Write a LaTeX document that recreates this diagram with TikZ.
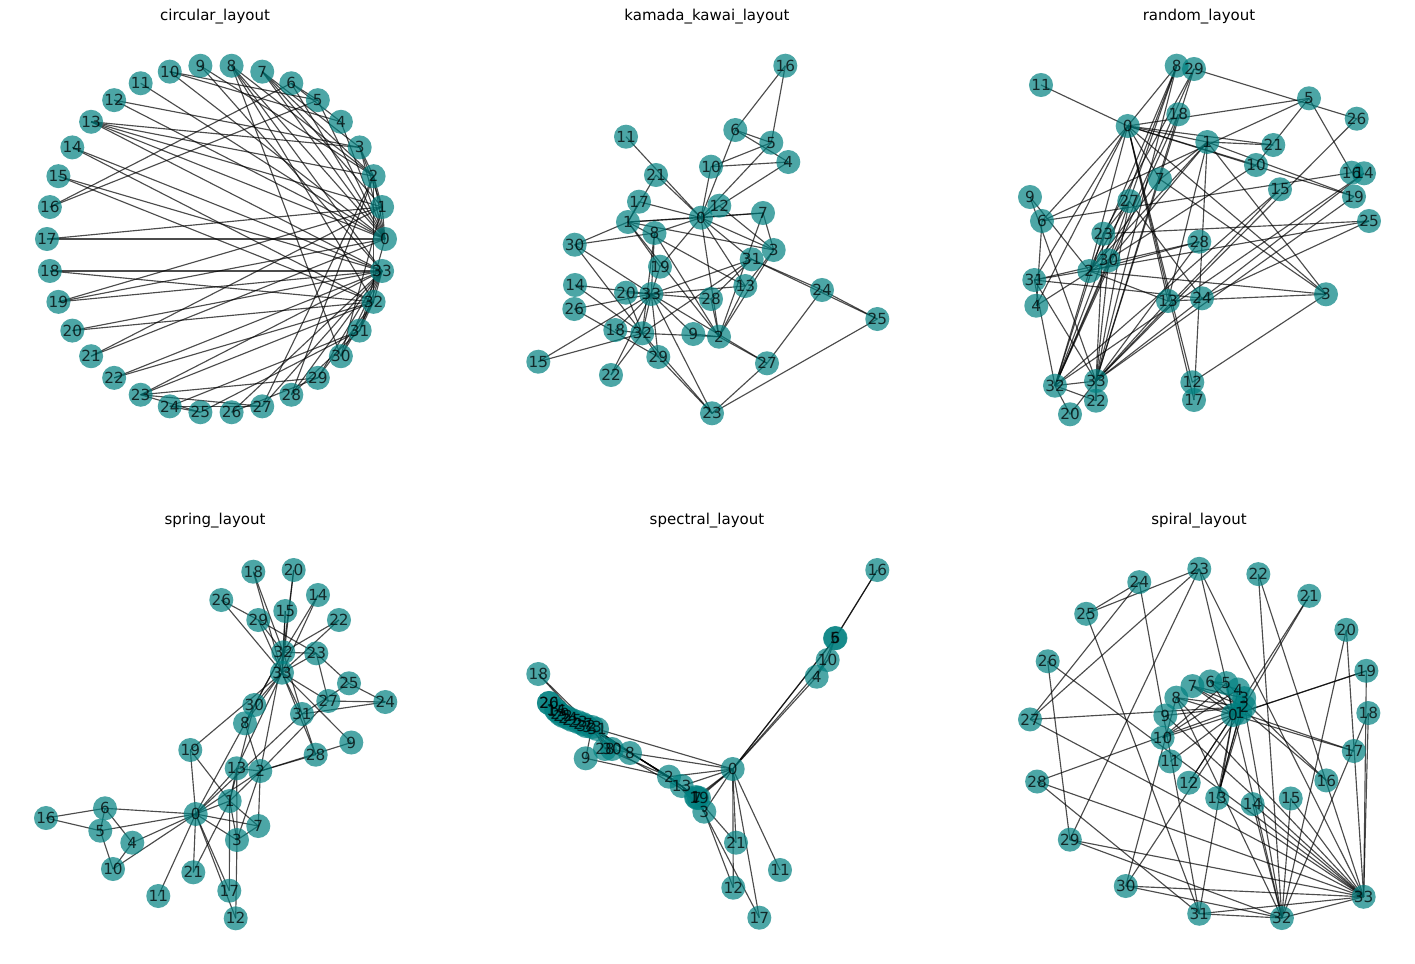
\documentclass[tikz,border=0pt]{standalone}
\usepackage{fontspec}
\setmainfont{DejaVu Sans}
\usepackage{tikz}

\pgfdeclarelayer{bg}
\pgfsetlayers{bg,main}

% karate club edges
\newcommand\karateedges{0/1,0/2,0/3,0/4,0/5,0/6,0/7,0/8,0/10,0/11,0/12,0/13,0/17,0/19,0/21,0/31,1/2,1/3,1/7,1/13,1/17,1/19,1/21,1/30,2/3,2/7,2/8,2/9,2/13,2/27,2/28,2/32,3/7,3/12,3/13,4/6,4/10,5/6,5/10,5/16,6/16,8/30,8/32,8/33,9/33,13/33,14/32,14/33,15/32,15/33,18/32,18/33,19/33,20/32,20/33,22/32,22/33,23/25,23/27,23/29,23/32,23/33,24/25,24/27,24/31,25/31,26/29,26/33,27/33,28/31,28/33,29/32,29/33,30/32,30/33,31/32,31/33,32/33}

\tikzset{
  vert/.style={circle, fill=teal, fill opacity=0.7, minimum size=17.3pt, inner sep=0pt},
  lab/.style={font=\fontsize{11}{12}\selectfont, text=black, text opacity=0.75, inner sep=0pt},
  edge/.style={black, opacity=0.7, line width=0.82pt},
  title/.style={font=\fontsize{10.8}{12}\selectfont, text=black}
}

\begin{document}
\begin{tikzpicture}[x=0.72pt, y=-0.72pt]
    \useasboundingbox (0,0) rectangle (1415,964);

    % Titles
    \node[title] (t1) at (215,17) {circular\_layout};
    \node[title] (t2) at (707,17) {kamada\_kawai\_layout};
    \node[title] (t3) at (1199,17) {random\_layout};
    \node[title] (t4) at (215,521) {spring\_layout};
    \node[title] (t5) at (707,521) {spectral\_layout};
    \node[title] (t6) at (1199,521) {spiral\_layout};

    % Circular
    \foreach \i in {0,...,33}
        \node[vert] (ci\i) at ({216+169*cos(\i*360/34)},{239-174*sin(\i*360/34)}) {};
    \begin{pgfonlayer}{bg}
    \foreach \a/\b in \karateedges \draw[edge] (ci\a.center) -- (ci\b.center);
    \end{pgfonlayer}
    \foreach \i in {0,...,33} \node[lab] (cil\i) at (ci\i) {\i};

    % Kamada-Kawai
    \foreach \i/\x/\y in {0/701/217.7, 1/628/222, 2/719/336.7, 3/773.7/250, 4/788.3/162, 5/771.3/142.7, 6/735.3/130, 7/763/213, 8/654.5/233, 9/693.3/334, 10/711/166.7, 11/626/136.7, 12/719.3/205.7, 13/745.3/286, 14/575/285, 15/538.3/361.7, 16/785.3/65.7, 17/639/201.7, 18/615.3/330, 19/660/266.7, 20/626/292.7, 21/656/175, 22/611/375, 23/712/413.3, 24/822/290, 25/877.3/319, 26/574.3/309, 27/767/363.3, 28/711/299, 29/658.3/357, 30/574.7/244.7, 31/751.7/259.3, 32/642.3/333.3, 33/651.3/294}
        \node[vert] (kk\i) at (\x,\y) {};
    \begin{pgfonlayer}{bg}
    \foreach \a/\b in \karateedges \draw[edge] (kk\a.center) -- (kk\b.center);
    \end{pgfonlayer}
    \foreach \i in {0,...,33} \node[lab] (kkl\i) at (kk\i) {\i};

    % Random
    \foreach \i/\x/\y in {0/1127.7/126, 1/1207.3/142, 2/1089.3/271, 3/1326/294.3, 4/1036.3/305.7, 5/1309/98.3, 6/1042/221, 7/1160/179.3, 8/1176.7/65.7, 9/1030/197, 10/1256/165, 11/1041/85, 12/1192.3/382.3, 13/1168/301, 14/1364/173.3, 15/1280/189.3, 16/1351.7/172.7, 17/1194/400, 18/1178.3/114.3, 19/1354/196.5, 20/1070/414.3, 21/1273.3/145, 22/1096/400.7, 23/1103.3/233.7, 24/1202/298.3, 25/1369/221, 26/1356.7/118.7, 27/1129.3/201, 28/1199.3/241.7, 29/1194/69, 30/1108.7/260.3, 31/1034.3/280, 32/1055/385.7, 33/1096/381}
        \node[vert] (rn\i) at (\x,\y) {};
    \begin{pgfonlayer}{bg}
    \foreach \a/\b in \karateedges \draw[edge] (rn\a.center) -- (rn\b.center);
    \end{pgfonlayer}
    \foreach \i in {0,...,33} \node[lab] (rnl\i) at (rn\i) {\i};

    % Spring
    \foreach \i/\x/\y in {0/195.7/814, 1/229.7/801, 2/260.3/771, 3/237/840, 4/132.3/842.7, 5/100.3/830.7, 6/105/808.3, 7/258.3/826, 8/245/723.3, 9/351.3/742.5, 10/113/869, 11/158.3/896, 12/235.7/918.3, 13/236.7/768.3, 14/318/595, 15/285.3/611, 16/46/818, 17/229.3/890.7, 18/253.3/571.7, 19/190.3/750, 20/293.7/570, 21/193.3/872.3, 22/339/620, 23/316.3/653.3, 24/385.3/702, 25/349/683.3, 26/221.3/600, 27/328.3/701, 28/315.7/754.7, 29/258.3/620, 30/254.3/705, 31/302/714, 32/283.3/652.3, 33/282/672.7}
        \node[vert] (sp\i) at (\x,\y) {};
    \begin{pgfonlayer}{bg}
    \foreach \a/\b in \karateedges \draw[edge] (sp\a.center) -- (sp\b.center);
    \end{pgfonlayer}
    \foreach \i in {0,...,33} \node[lab] (spl\i) at (sp\i) {\i};

    % Spectral
    \foreach \i/\x/\y in {0/732.7/769, 1/696/797, 2/669/776.7, 3/704.3/811.7, 4/816.7/676.7, 5/835/638.3, 6/835.5/638, 7/697/798, 8/630/753, 9/585.7/758.3, 10/827.7/660, 11/780/870, 12/733.3/887.7, 13/681.7/786, 14/556/710, 15/557/711, 16/877.3/570, 17/759.3/917.7, 18/538.3/674, 19/699/798, 20/549/703, 21/736/842.7, 22/563/716, 23/578/722, 24/568/718, 25/572/720, 26/549/703, 27/583/724, 28/605/749, 29/560/714, 30/612/749, 31/597/729, 32/586/726, 33/592/727}
        \node[vert] (sc\i) at (\x,\y) {};
    \begin{pgfonlayer}{bg}
    \foreach \a/\b in \karateedges \draw[edge] (sc\a.center) -- (sc\b.center);
    \end{pgfonlayer}
    \foreach \i in {0,...,33} \node[lab] (scl\i) at (sc\i) {\i};

    % Spiral
    \foreach \i in {0,...,33}
        \node[vert] (si\i) at ({1233+7.52*\i*cos(deg(0.35*\i))},{715-6.48*\i*sin(deg(0.35*\i))}) {};
    \begin{pgfonlayer}{bg}
    \foreach \a/\b in \karateedges \draw[edge] (si\a.center) -- (si\b.center);
    \end{pgfonlayer}
    \foreach \i in {0,...,33} \node[lab] (sil\i) at (si\i) {\i};
\end{tikzpicture}
\end{document}
